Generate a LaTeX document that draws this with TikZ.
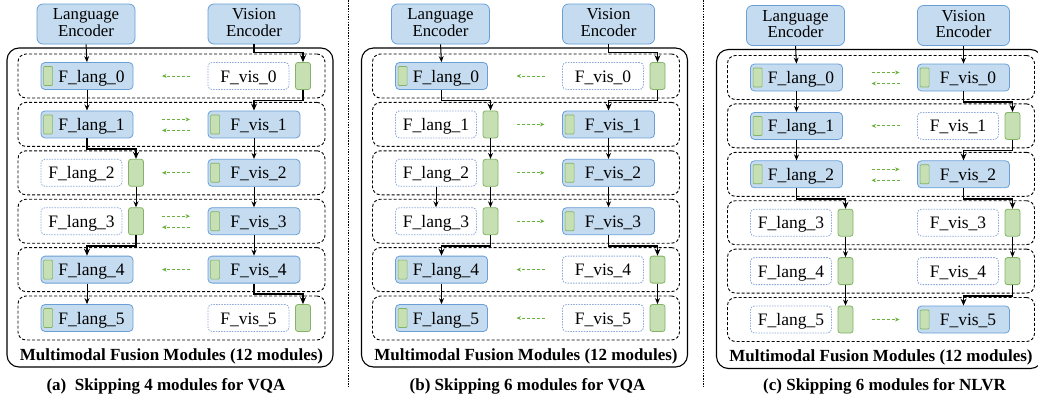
\documentclass[tikz,border=0pt]{standalone}
\usepackage{fontspec}
\setmainfont{Liberation Serif}
\usetikzlibrary{arrows.meta}
\definecolor{bfill}{HTML}{C5DCF0}
\definecolor{bdraw}{HTML}{6A9FD6}
\definecolor{gfill}{HTML}{C6E0B4}
\definecolor{gdraw}{HTML}{82B366}
\definecolor{sdraw}{HTML}{8EAADB}
\definecolor{xgreen}{HTML}{6AB23C}
\newcommand\modfont{\fontsize{17.5}{20}\selectfont}
\def\yA{76}
\def\yB{124.4}
\def\yC{172.8}
\def\yD{221.2}
\def\yE{269.6}
\def\yF{318}
\tikzset{
 enc/.style={draw=bdraw, fill=bfill, rounded corners=6pt, line width=0.8pt, minimum width=#1, minimum height=40pt, inner sep=0pt},
 enctext/.style={align=center, inner sep=0pt, font=\fontsize{16.8}{16.8}\selectfont},
 actbox/.style={draw=bdraw, fill=bfill, rounded corners=4pt, line width=0.8pt, minimum width=92pt, minimum height=27pt, inner sep=0pt},
 skipbox/.style={draw=sdraw, fill=white, rounded corners=4pt, line width=0.8pt, dash pattern=on 1.5pt off 1.2pt, minimum width=81pt, minimum height=27pt, inner sep=0pt},
 adapter/.style={draw=gdraw, fill=gfill, rounded corners=2.5pt, line width=0.8pt, minimum width=15pt, minimum height=27pt, inner sep=0pt},
 smallad/.style={draw=gdraw, fill=gfill, rounded corners=1pt, line width=0.7pt, minimum width=9pt, minimum height=19pt, inner sep=0pt},
 mtext/.style={inner sep=0pt, anchor=base, font=\modfont},
 titletext/.style={inner sep=0pt, anchor=base, font=\bfseries\fontsize{17}{20}\selectfont},
 rowbox/.style={draw, dash pattern=on 3pt off 2pt, rounded corners=8pt, line width=0.9pt, minimum width=307pt, minimum height=44pt, inner sep=0pt},
 outerbox/.style={draw, rounded corners=12pt, line width=1.1pt, minimum width=326pt, minimum height=319pt, inner sep=0pt},
 flowline/.style={line width=1pt, -{Stealth[length=6pt,width=5pt]}},
 skipline/.style={line width=1.6pt, -{Stealth[length=7pt,width=6pt]}},
 cross/.style={xgreen, line width=1pt, dash pattern=on 3pt off 2pt, -{Stealth[length=4.5pt,width=4pt]}},
 sep/.style={line width=0.6pt, dash pattern=on 1.5pt off 1.2pt},
}
\newcommand\panelbase[4]{%
 \node[outerbox] (#1out) at (170,207.5) {};
 \node[rowbox] (#1row0) at (171.5,\yA) {};
 \node[rowbox] (#1row1) at (171.5,\yB) {};
 \node[rowbox] (#1row2) at (171.5,\yC) {};
 \node[rowbox] (#1row3) at (171.5,\yD) {};
 \node[rowbox] (#1row4) at (171.5,\yE) {};
 \node[rowbox] (#1row5) at (171.5,\yF) {};
 \node[enc=98pt] (#1le) at (86,24) {};
 \node[enctext] (#1let) at (86,22.5) {Language\\Encoder};
 \node[enc=92pt] (#1ve) at (254,24) {};
 \node[enctext] (#1vet) at (254,22.5) {Vision\\Encoder};
 \node[titletext] (#1title) at (171.5,360) {Multimodal Fusion Modules (12 modules)};
 \node[titletext] (#1cap) at (#3,#4) {#2};
}
\newcommand\actmod[4]{%
 \node[actbox] (#1) at (#2,#3) {};
 \node[smallad] (#1s) at ([xshift=7.5pt]#1.west) {};
 \node[mtext] (#1t) at ([xshift=4.5pt,yshift=-6pt]#1.center) {#4};}
\newcommand\skipmod[4]{%
 \node[skipbox] (#1) at ({#2-5.5},#3) {};
 \node[adapter] (#1a) at ({#2+49},#3) {};
 \node[mtext] (#1t) at ([yshift=-6pt]#1.center) {#4};}
\newcommand\flow[2]{\draw[flowline] (#1.south) -- (#2.north);}
\newcommand\skipflow[3]{\draw[skipline] (#1.south) -- ++(0,#3) -| (#2.north);}
\newcommand\toL[1]{\draw[cross] (190,#1) -- (162,#1);}
\newcommand\toR[1]{\draw[cross] (162,#1) -- (190,#1);}
\newcommand\both[1]{\draw[cross] (162,#1-5) -- (190,#1-5); \draw[cross] (190,#1+6) -- (162,#1+6);}
\begin{document}
\begin{tikzpicture}[x=1pt,y=-1pt]
\useasboundingbox (0,0) rectangle (1038,402);
\clip (0,0) rectangle (1038,402);
\fill[white] (0,0) rectangle (1038,402);
\coordinate (s1t) at (348,0); \coordinate (s1b) at (348,387);
\coordinate (s2t) at (703,0); \coordinate (s2b) at (703,387);
\draw[sep] (s1t) -- (s1b);
\draw[sep] (s2t) -- (s2b);
% ---------------- panel a
\begin{scope}
\panelbase{a}{(a)\ \ Skipping 4 modules for VQA}{166}{390}
\actmod{al0}{87}{\yA}{F\_lang\_0}
\skipmod{av0}{254}{\yA}{F\_vis\_0}
\actmod{al1}{87}{\yB}{F\_lang\_1}
\actmod{av1}{254}{\yB}{F\_vis\_1}
\skipmod{al2}{87}{\yC}{F\_lang\_2}
\actmod{av2}{254}{\yC}{F\_vis\_2}
\skipmod{al3}{87}{\yD}{F\_lang\_3}
\actmod{av3}{254}{\yD}{F\_vis\_3}
\actmod{al4}{87}{\yE}{F\_lang\_4}
\actmod{av4}{254}{\yE}{F\_vis\_4}
\actmod{al5}{87}{\yF}{F\_lang\_5}
\skipmod{av5}{254}{\yF}{F\_vis\_5}
\flow{ale}{al0}
\skipflow{ave}{av0a}{8}
\flow{al0}{al1}
\skipflow{av0a}{av1}{10.7}
\skipflow{al1}{al2a}{10.7}
\flow{av1}{av2}
\flow{al2a}{al3a}
\flow{av2}{av3}
\skipflow{al3a}{al4}{10.7}
\flow{av3}{av4}
\flow{al4}{al5}
\skipflow{av4}{av5a}{10.7}
\toL{\yA}
\both{\yB}
\toL{\yC}
\both{\yD}
\toL{\yE}
\end{scope}
% ---------------- panel b
\begin{scope}[shift={(354.5,0)}]
\panelbase{b}{(b) Skipping 6 modules for VQA}{173}{390}
\actmod{bl0}{87}{\yA}{F\_lang\_0}
\skipmod{bv0}{254}{\yA}{F\_vis\_0}
\skipmod{bl1}{87}{\yB}{F\_lang\_1}
\actmod{bv1}{254}{\yB}{F\_vis\_1}
\skipmod{bl2}{87}{\yC}{F\_lang\_2}
\actmod{bv2}{254}{\yC}{F\_vis\_2}
\skipmod{bl3}{87}{\yD}{F\_lang\_3}
\actmod{bv3}{254}{\yD}{F\_vis\_3}
\actmod{bl4}{87}{\yE}{F\_lang\_4}
\skipmod{bv4}{254}{\yE}{F\_vis\_4}
\actmod{bl5}{87}{\yF}{F\_lang\_5}
\skipmod{bv5}{254}{\yF}{F\_vis\_5}
\flow{ble}{bl0}
\skipflow{bve}{bv0a}{8}
\skipflow{bl0}{bl1a}{10.7}
\skipflow{bv0a}{bv1}{10.7}
\flow{bl1a}{bl2a}
\flow{bv1}{bv2}
\flow{bl2a}{bl3a}
\flow{bl2}{bl3}
\flow{bv2}{bv3}
\skipflow{bl3a}{bl4}{10.7}
\skipflow{bv3}{bv4a}{10.7}
\flow{bl4}{bl5}
\flow{bv4a}{bv5a}
\toL{\yA}
\toR{\yB}
\toR{\yC}
\toR{\yD}
\toL{\yE}
\toL{\yF}
\end{scope}
% ---------------- panel c
\begin{scope}[shift={(709.5,1.5)}]
\panelbase{c}{(c) Skipping 6 modules for NLVR}{175}{388.5}
\actmod{cl0}{87}{\yA}{F\_lang\_0}
\actmod{cv0}{254}{\yA}{F\_vis\_0}
\actmod{cl1}{87}{\yB}{F\_lang\_1}
\skipmod{cv1}{254}{\yB}{F\_vis\_1}
\actmod{cl2}{87}{\yC}{F\_lang\_2}
\actmod{cv2}{254}{\yC}{F\_vis\_2}
\skipmod{cl3}{87}{\yD}{F\_lang\_3}
\skipmod{cv3}{254}{\yD}{F\_vis\_3}
\skipmod{cl4}{87}{\yE}{F\_lang\_4}
\skipmod{cv4}{254}{\yE}{F\_vis\_4}
\skipmod{cl5}{87}{\yF}{F\_lang\_5}
\actmod{cv5}{254}{\yF}{F\_vis\_5}
\flow{cle}{cl0}
\flow{cve}{cv0}
\flow{cl0}{cl1}
\skipflow{cv0}{cv1a}{10.7}
\flow{cl1}{cl2}
\skipflow{cv1a}{cv2}{10.7}
\skipflow{cl2}{cl3a}{10.7}
\skipflow{cv2}{cv3a}{10.7}
\flow{cl3a}{cl4a}
\flow{cv3a}{cv4a}
\flow{cl4a}{cl5a}
\skipflow{cv4a}{cv5}{10.7}
\both{\yA}
\toL{\yB}
\both{\yC}
\toR{\yF}
\end{scope}
\end{tikzpicture}
\end{document}
